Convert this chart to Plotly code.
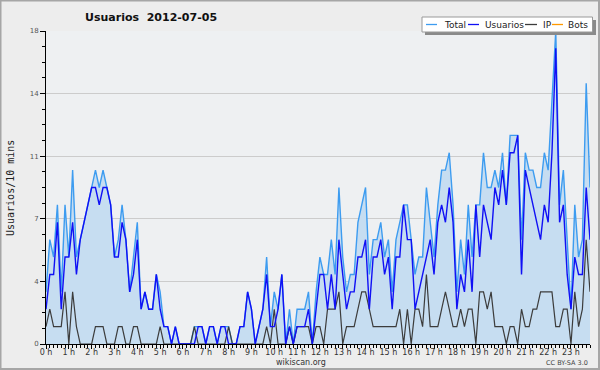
import plotly.graph_objects as go

# ---- data: one value per 10-minute slot, 00:00 .. 23:50 ----
slot_minutes = list(range(0, 1440, 10))
total = [3, 6, 5, 8, 3, 8, 5, 10, 5, 6, 7, 8, 9, 10, 9, 10, 9, 8, 5, 6, 8, 6, 3, 5,
         7, 2, 3, 2, 2, 4, 3, 1, 1, 0, 1, 0, 0, 0, 0, 1, 1, 1, 0, 1, 1, 0, 1, 1,
         1, 0, 0, 1, 1, 3, 2, 0, 1, 2, 5, 1, 3, 2, 4, 0, 2, 0, 2, 2, 2, 3, 0, 3,
         5, 4, 4, 6, 4, 9, 5, 3, 4, 4, 7, 8, 9, 4, 6, 6, 7, 5, 6, 3, 6, 7, 8, 8,
         6, 4, 5, 5, 9, 7, 5, 8, 10, 10, 11, 8, 3, 6, 4, 8, 5, 8, 8, 11, 9, 9, 10, 9,
         11, 8, 12, 12, 12, 6, 11, 10, 10, 9, 9, 11, 10, 14, 18, 8, 10, 6, 2, 8, 5, 6, 15, 9]
usuarios = [2, 4, 4, 7, 2, 5, 5, 7, 4, 6, 7, 8, 9, 9, 8, 9, 9, 8, 5, 5, 7, 6, 3, 4,
            6, 2, 3, 2, 2, 4, 2, 1, 1, 0, 1, 0, 0, 0, 0, 0, 1, 1, 0, 1, 1, 0, 1, 1,
            0, 0, 0, 1, 1, 3, 2, 0, 1, 2, 4, 1, 1, 2, 4, 0, 1, 0, 1, 1, 1, 2, 0, 2,
            4, 4, 2, 4, 2, 6, 4, 2, 3, 3, 5, 5, 6, 2, 5, 5, 6, 4, 5, 2, 5, 5, 8, 6,
            6, 2, 3, 4, 5, 6, 4, 7, 8, 7, 9, 7, 2, 4, 3, 6, 3, 8, 5, 8, 7, 6, 9, 8,
            10, 8, 11, 11, 12, 4, 10, 9, 8, 7, 6, 8, 7, 11, 17, 7, 8, 4, 2, 5, 4, 4, 9, 6]
ip = [1, 2, 1, 1, 1, 3, 0, 3, 1, 0, 0, 0, 0, 1, 1, 1, 0, 0, 0, 1, 1, 0, 0, 1,
      1, 0, 0, 0, 0, 0, 1, 0, 0, 0, 0, 0, 0, 0, 0, 1, 0, 0, 0, 0, 0, 0, 0, 0,
      1, 0, 0, 0, 0, 0, 0, 0, 0, 0, 1, 0, 2, 0, 0, 0, 1, 0, 1, 1, 1, 1, 0, 1,
      1, 0, 2, 2, 2, 3, 0, 1, 1, 1, 2, 3, 3, 2, 1, 1, 1, 1, 1, 1, 1, 2, 0, 2,
      0, 2, 2, 1, 4, 1, 1, 1, 2, 3, 2, 1, 1, 2, 1, 2, 2, 0, 3, 3, 2, 3, 1, 1,
      1, 0, 1, 1, 0, 2, 1, 1, 2, 2, 3, 3, 3, 3, 1, 1, 2, 2, 0, 3, 1, 2, 6, 3]
bots = [0] * 144

hour_ticks = list(range(24))
hour_labels = [f"{h} h" for h in hour_ticks]
y_tickvals = [0, 3.6, 7.2, 10.8, 14.4, 18]
y_ticktext = ["0", "4", "7", "11", "14", "18"]

title_text = "Usuarios&nbsp;&nbsp;2012-07-05"
y_title = "Usuarios/10 mins"
series_names = ["Total", "Usuarios", "IP", "Bots"]
series_colors = ["#3d9cf0", "#1010f5", "#3c3c3c", "#ff9900"]

x_hours = [m / 60 for m in slot_minutes]

# plot-area geometry (pixels) for placing decorations
L, R, T, B = 46, 590, 31, 344
def px(x):
    return (x - L) / (R - L)
def py(y):
    return (B - y) / (B - T)

fig = go.Figure()
fig.add_trace(go.Scatter(x=x_hours, y=bots, mode="lines", name="Bots",
                         line=dict(color=series_colors[3], width=1.3)))
fig.add_trace(go.Scatter(x=x_hours, y=total, mode="lines", name="Total", fill="tozeroy",
                         fillcolor="#c6ddf1", line=dict(color=series_colors[0], width=1.4)))
fig.add_trace(go.Scatter(x=x_hours, y=ip, mode="lines", name="IP",
                         line=dict(color=series_colors[2], width=1.2)))
fig.add_trace(go.Scatter(x=x_hours, y=usuarios, mode="lines", name="Usuarios",
                         line=dict(color=series_colors[1], width=1.4)))

fig.update_layout(
    width=600, height=370, autosize=False,
    margin=dict(l=L, r=600 - R, t=T, b=370 - B, pad=0),
    paper_bgcolor="#ededed", plot_bgcolor="#eef0f2",
    showlegend=False, hovermode=False,
    font=dict(family="DejaVu Sans", size=8, color="#333333"),
)
fig.update_xaxes(
    range=[0, 143 / 6], tickmode="array", tickvals=hour_ticks, ticktext=hour_labels,
    ticks="outside", ticklen=4, tickcolor="black", tickwidth=1,
    showline=True, linecolor="black", linewidth=1, mirror=False,
    showgrid=False, zeroline=False, tickfont=dict(size=8, color="#333333"),
    automargin=False, ticklabelstandoff=-4,
    minor=dict(tickmode="linear", tick0=0, dtick=1 / 6, ticks="outside", ticklen=3,
               tickcolor="black", tickwidth=1, showgrid=False),
)
fig.update_yaxes(
    range=[0, 18], tickmode="array", tickvals=y_tickvals, ticktext=y_ticktext,
    ticks="outside", ticklen=5, tickcolor="black", tickwidth=1,
    showline=True, linecolor="black", linewidth=1,
    showgrid=True, gridcolor="#cccccc", gridwidth=1, zeroline=False,
    tickfont=dict(size=7, color="#555555"), automargin=False,
    minor=dict(tickmode="linear", tick0=0, dtick=0.9, ticks="outside", ticklen=3,
               tickcolor="black", tickwidth=1, showgrid=False),
)

shapes = []
# outer frame
shapes.append(dict(type="rect", xref="paper", yref="paper", x0=px(0.5), x1=px(599), y0=py(0.5), y1=py(369),
                   line=dict(color="#a6a6a6", width=2), fillcolor="rgba(0,0,0,0)", layer="above"))
# legend shadow and box
shapes.append(dict(type="rect", xref="paper", yref="paper", x0=px(425), x1=px(596), y0=py(20), y1=py(35),
                   line=dict(width=0), fillcolor="#8a8a8a", layer="above"))
shapes.append(dict(type="rect", xref="paper", yref="paper", x0=px(422), x1=px(592.5), y0=py(17), y1=py(32),
                   line=dict(color="#999999", width=1), fillcolor="white", layer="above"))
legend_lines = [(426, 437), (468, 479), (525, 537), (552, 563)]
legend_text_x = [442, 483, 541, 566]
annotations = []
for (a, b), tx, name, col in zip(legend_lines, legend_text_x, series_names, series_colors):
    shapes.append(dict(type="line", xref="paper", yref="paper", x0=px(a), x1=px(b), y0=py(24.5), y1=py(24.5),
                       line=dict(color=col, width=1.3), layer="above"))
    annotations.append(dict(text=name, xref="paper", yref="paper", x=px(tx), y=py(24.5),
                            xanchor="left", yanchor="middle", showarrow=False,
                            font=dict(family="DejaVu Sans", size=9, color="#222222")))

annotations += [
    dict(text=title_text, xref="paper", yref="paper", x=px(151), y=py(17), xanchor="center", yanchor="middle",
         showarrow=False, font=dict(family="DejaVu Sans", size=11, color="#111111", weight="bold")),
    dict(text=y_title, xref="paper", yref="paper", x=px(10), y=py(188), xanchor="center", yanchor="middle",
         textangle=-90, showarrow=False, font=dict(family="DejaVu Sans Mono", size=10, color="#222222")),
    dict(text="wikiscan.org", xref="paper", yref="paper", x=px(301), y=py(362), xanchor="center",
         yanchor="middle", showarrow=False, font=dict(family="DejaVu Sans", size=8, color="#333333")),
    dict(text="CC BY-SA 3.0", xref="paper", yref="paper", x=px(590), y=py(363), xanchor="right",
         yanchor="middle", showarrow=False, font=dict(family="DejaVu Sans", size=6.5, color="#444444")),
]
fig.update_layout(shapes=shapes, annotations=annotations)

fig.write_html("out.html", config={"displayModeBar": False, "staticPlot": True},
               post_script="document.body.style.margin='0';document.body.style.overflow='hidden';")
